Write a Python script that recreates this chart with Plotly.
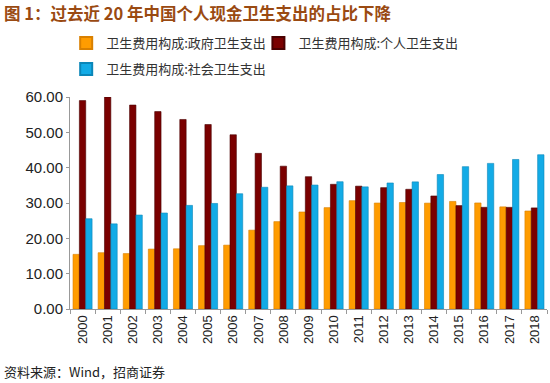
import plotly.graph_objects as go

years = [str(y) for y in range(2000, 2019)]
gov = [15.47, 15.93, 15.69, 16.96, 17.04, 17.93, 18.07, 22.31, 24.73, 27.46,
       28.69, 30.66, 29.99, 30.14, 29.96, 30.45, 30.01, 28.91, 27.74]
personal = [58.98, 59.97, 57.72, 55.87, 53.64, 52.21, 49.31, 44.05, 40.42, 37.46,
            35.29, 34.77, 34.34, 33.88, 31.99, 29.27, 28.78, 28.77, 28.61]
social = [25.55, 24.10, 26.59, 27.16, 29.32, 29.87, 32.62, 34.45, 34.85, 35.08,
          36.02, 34.57, 35.67, 35.98, 38.05, 40.29, 41.21, 42.32, 43.66]
names = ["卫生费用构成:政府卫生支出", "卫生费用构成:个人卫生支出", "卫生费用构成:社会卫生支出"]
colors = ["#FF9C00", "#7A0000", "#13ABE6"]
lines = ["#D98000", "#4A0000", "#0B86B8"]
legends = ["legend", "legend2", "legend3"]

fig = go.Figure()
for vals, nm, c, lc, lg in zip([gov, personal, social], names, colors, lines, legends):
    fig.add_trace(go.Bar(x=years, y=vals, name=nm, legend=lg,
                         marker=dict(color=c, line=dict(color=lc, width=0.6))))

leg_common = dict(orientation="h", xanchor="left", yanchor="middle",
                  font=dict(family="Noto Sans CJK SC", size=13, color="#333"),
                  itemsizing="constant", bgcolor="rgba(0,0,0,0)")

fig.update_layout(
    width=550, height=383,
    margin=dict(l=70, r=3, t=97, b=74, autoexpand=False),
    paper_bgcolor="white", plot_bgcolor="white",
    barmode="group", bargap=0.24, bargroupgap=0,
    font=dict(family="Liberation Sans, Arial", size=13, color="#222"),
    showlegend=True,
    legend=dict(x=-0.008, y=(309 - 43) / 212, **leg_common),
    legend2=dict(x=0.395, y=(309 - 43) / 212, **leg_common),
    legend3=dict(x=-0.008, y=(309 - 69) / 212, **leg_common),
    annotations=[
        dict(text="<b>图 1：过去近 20 年中国个人现金卫生支出的占比下降</b>", xref="paper", yref="paper",
             x=-0.142, y=1.396, xanchor="left", yanchor="middle", showarrow=False,
             font=dict(family="Noto Sans CJK SC", size=16.5, color="#9A4A12")),
        dict(text="资料来源：Wind，招商证券", xref="paper", yref="paper",
             x=-0.142, y=-0.297, xanchor="left", yanchor="middle", showarrow=False,
             font=dict(family="Noto Sans CJK SC", size=13, color="#222")),
    ],
)
fig.update_yaxes(range=[0, 60], dtick=10, tickformat=".2f", showgrid=False,
                 showline=True, linecolor="#999", ticks="outside", ticklen=3, tickcolor="#999",
                 tickfont=dict(size=15, color="#222"), zeroline=False)
fig.update_xaxes(showline=True, linecolor="#999", ticks="outside", tickson="boundaries",
                 ticklen=4, tickcolor="#999", tickangle=-90, showgrid=False,
                 tickfont=dict(size=13, color="#222"))
fig.write_html("out.html", config={"displayModeBar": False},
               post_script="document.body.style.margin='0';document.body.style.overflow='hidden';")
